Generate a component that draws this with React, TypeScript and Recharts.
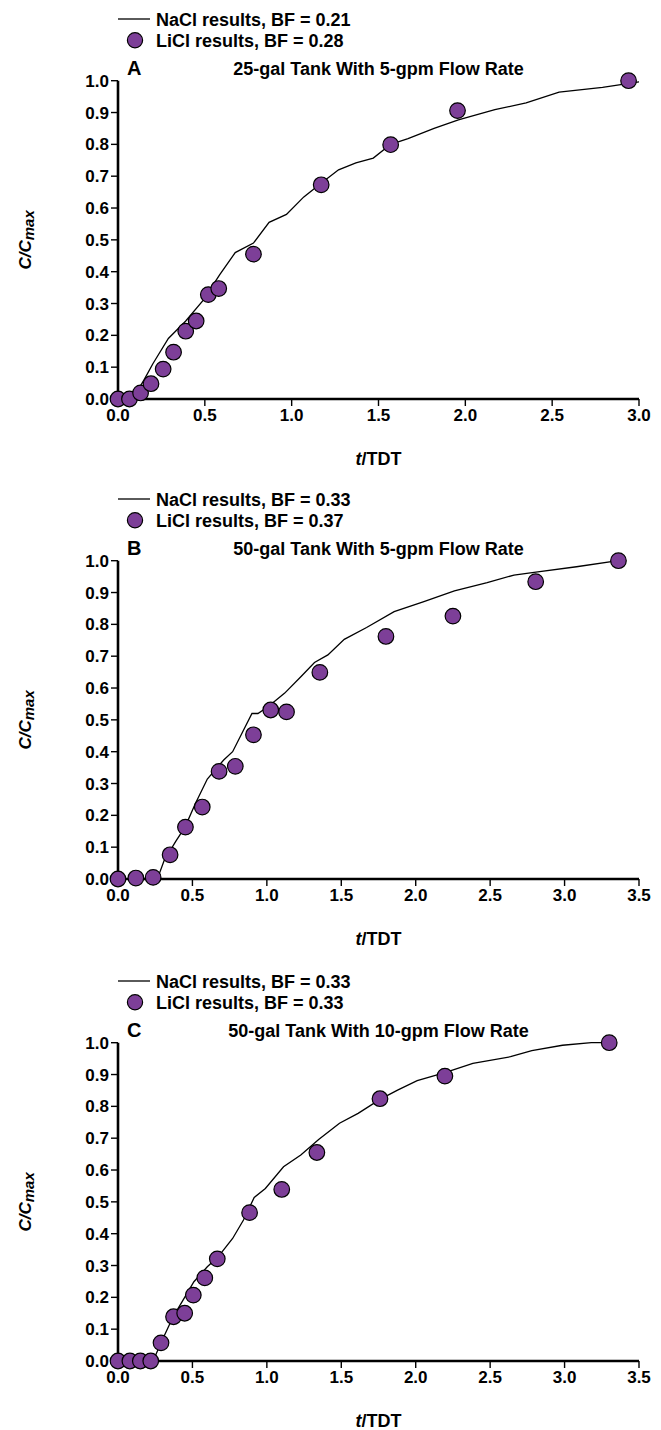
import React from 'react';
import { ComposedChart, Line, Scatter, XAxis, YAxis } from 'recharts';

const FONT = '"Liberation Sans", Arial, Helvetica, sans-serif';
const PURPLE = '#7D3F98';

// ---------- Panel A : 25-gal tank, 5 gpm ----------
const naclA_t = [0, 0.05, 0.1, 0.15, 0.2, 0.29, 0.39, 0.49, 0.585, 0.675, 0.78, 0.87, 0.97, 1.07, 1.175, 1.27, 1.37, 1.47, 1.57, 1.67, 1.82, 1.96, 2.17, 2.35, 2.54, 2.79, 3.0];
const naclA_c = [0, 0.003, 0.015, 0.06, 0.11, 0.19, 0.245, 0.31, 0.39, 0.46, 0.49, 0.555, 0.58, 0.635, 0.68, 0.72, 0.742, 0.757, 0.8, 0.818, 0.85, 0.877, 0.909, 0.93, 0.964, 0.979, 0.996];
const liclA_t = [0, 0.066, 0.13, 0.19, 0.26, 0.32, 0.39, 0.45, 0.52, 0.58, 0.78, 1.17, 1.57, 1.955, 2.94];
const liclA_c = [0, 0, 0.019, 0.048, 0.094, 0.147, 0.213, 0.245, 0.328, 0.347, 0.455, 0.673, 0.799, 0.906, 1.0];

// ---------- Panel B : 50-gal tank, 5 gpm ----------
const naclB_t = [0, 0.1, 0.24, 0.28, 0.31, 0.39, 0.45, 0.52, 0.6, 0.71, 0.77, 0.9, 0.94, 1.01, 1.12, 1.23, 1.32, 1.41, 1.52, 1.67, 1.855, 2.05, 2.26, 2.48, 2.66, 2.82, 3.08, 3.36];
const naclB_c = [0, 0, 0, 0.02, 0.058, 0.12, 0.163, 0.237, 0.314, 0.374, 0.4, 0.52, 0.52, 0.542, 0.584, 0.636, 0.68, 0.704, 0.753, 0.79, 0.84, 0.871, 0.905, 0.931, 0.955, 0.965, 0.981, 1.0];
const liclB_t = [0, 0.12, 0.236, 0.35, 0.453, 0.566, 0.679, 0.788, 0.91, 1.026, 1.132, 1.356, 1.8, 2.25, 2.806, 3.362];
const liclB_c = [0, 0.003, 0.005, 0.076, 0.163, 0.226, 0.338, 0.354, 0.453, 0.531, 0.525, 0.649, 0.762, 0.826, 0.934, 1.0];

// ---------- Panel C : 50-gal tank, 10 gpm ----------
const naclC_t = [0, 0.1, 0.2, 0.24, 0.289, 0.37, 0.43, 0.51, 0.6, 0.674, 0.77, 0.843, 0.915, 0.99, 1.112, 1.228, 1.348, 1.488, 1.613, 1.76, 1.878, 2.01, 2.196, 2.384, 2.637, 2.78, 2.986, 3.18, 3.35];
const naclC_c = [0, 0, 0, 0.005, 0.057, 0.139, 0.186, 0.249, 0.296, 0.328, 0.385, 0.443, 0.514, 0.542, 0.61, 0.647, 0.696, 0.747, 0.778, 0.822, 0.851, 0.881, 0.906, 0.935, 0.956, 0.975, 0.992, 1.0, 1.0];
const liclC_t = [0, 0.08, 0.15, 0.22, 0.289, 0.373, 0.448, 0.506, 0.583, 0.667, 0.884, 1.1, 1.336, 1.76, 2.196, 3.3];
const liclC_c = [0, 0, 0, 0, 0.057, 0.139, 0.15, 0.207, 0.261, 0.321, 0.466, 0.539, 0.655, 0.824, 0.895, 1.0];

// ---------- ticks & labels ----------
const yTicks = [0, 0.1, 0.2, 0.3, 0.4, 0.5, 0.6, 0.7, 0.8, 0.9, 1.0];
const xTicksA = [0, 0.5, 1.0, 1.5, 2.0, 2.5, 3.0];
const xTicksBC = [0, 0.5, 1.0, 1.5, 2.0, 2.5, 3.0, 3.5];
const letters = ['A', 'B', 'C'];
const titles = ['25-gal Tank With 5-gpm Flow Rate', '50-gal Tank With 5-gpm Flow Rate', '50-gal Tank With 10-gpm Flow Rate'];
const naclLabels = ['NaCl results, BF = 0.21', 'NaCl results, BF = 0.33', 'NaCl results, BF = 0.33'];
const liclLabels = ['LiCl results, BF = 0.28', 'LiCl results, BF = 0.37', 'LiCl results, BF = 0.33'];

const zip = (t: number[], c: number[]) => t.map((x, i) => ({ x, y: c[i] }));

const W = 661;
const H = 470;
const PLOT_TOP = 80.7;
const LEFT = 118;
const RIGHT = 22;
const XAXIS_H = 71;

const tickStyle = { fill: '#000', fontSize: 17, fontWeight: 700, fontFamily: FONT };

const XLabel = (props: any) => {
  const vb = props.viewBox || {};
  const cx = (vb.x ?? LEFT) + (vb.width ?? W - LEFT - RIGHT) / 2;
  const y = (vb.y ?? H - XAXIS_H) + 66;
  return (
    <text x={cx} y={y} textAnchor="middle" fontFamily={FONT} fontSize={18} fontWeight={700} fill="#000">
      <tspan fontStyle="italic">t</tspan>
      <tspan>/TDT</tspan>
    </text>
  );
};

const YLabel = (props: any) => {
  const vb = props.viewBox || {};
  const cy = (vb.y ?? PLOT_TOP) + (vb.height ?? H - PLOT_TOP - XAXIS_H) / 2;
  const bx = 31;
  return (
    <text transform={`translate(${bx}, ${cy}) rotate(-90)`} x={0} y={0} textAnchor="middle" fontFamily={FONT} fontWeight={700} fontStyle="italic" fill="#000">
      <tspan fontSize={17}>C/C</tspan>
      <tspan fontSize={15} dy={3}>max</tspan>
    </text>
  );
};

const Dot = (p: any) => (
  <circle cx={p.cx} cy={p.cy} r={7.8} fill={PURPLE} stroke="#000" strokeWidth={1.2} />
);

type PanelProps = {
  idx: number;
  top: number;
  nacl: { x: number; y: number }[];
  licl: { x: number; y: number }[];
  xMax: number;
  xTicks: number[];
};

function Panel({ idx, top, nacl, licl, xMax, xTicks }: PanelProps) {
  const T = PLOT_TOP;
  const plotCx = LEFT + (W - LEFT - RIGHT) / 2;
  return (
    <div style={{ position: 'absolute', left: 0, top, width: W, height: H }}>
      <ComposedChart width={W} height={H} margin={{ top: PLOT_TOP, right: RIGHT, bottom: 0, left: 0 }}>
        <XAxis
          type="number"
          dataKey="x"
          domain={[0, xMax]}
          ticks={xTicks}
          interval={0}
          tickFormatter={(v: number) => v.toFixed(1)}
          axisLine={{ stroke: '#000', strokeWidth: 2.6 }}
          tickLine={{ stroke: '#000', strokeWidth: 1.4 }}
          tickSize={7}
          tickMargin={3}
          tick={tickStyle}
          height={XAXIS_H}
          label={(p: any) => <XLabel {...p} />}
        />
        <YAxis
          type="number"
          dataKey="y"
          domain={[0, 1]}
          ticks={yTicks}
          interval={0}
          tickFormatter={(v: number) => v.toFixed(1)}
          axisLine={{ stroke: '#000', strokeWidth: 2.6 }}
          tickLine={{ stroke: '#000', strokeWidth: 1.4 }}
          tickSize={7}
          tickMargin={2}
          tick={tickStyle}
          width={LEFT}
          label={(p: any) => <YLabel {...p} />}
        />
        <Line data={nacl} dataKey="y" type="linear" stroke="#000" strokeWidth={1.3} dot={false} activeDot={false} isAnimationActive={false} />
        <Scatter data={licl} dataKey="y" shape={Dot} isAnimationActive={false} />
      </ComposedChart>
      <svg width={W} height={H} style={{ position: 'absolute', left: 0, top: 0, pointerEvents: 'none' }}>
        <g fontFamily={FONT} fontWeight={700} fill="#000">
          <line x1={118} x2={150} y1={T - 61.7} y2={T - 61.7} stroke="#000" strokeWidth={1.3} />
          <text x={156} y={T - 54.5} fontSize={18}>{naclLabels[idx]}</text>
          <circle cx={135} cy={T - 40.4} r={7.6} fill={PURPLE} stroke="#000" strokeWidth={1.2} />
          <text x={156} y={T - 34} fontSize={18}>{liclLabels[idx]}</text>
          <text x={127} y={T - 6} fontSize={20}>{letters[idx]}</text>
          <text x={plotCx} y={T - 6} fontSize={18} textAnchor="middle">{titles[idx]}</text>
        </g>
      </svg>
    </div>
  );
}

export default function App() {
  return (
    <div style={{ position: 'absolute', left: 0, top: 0, width: W, height: 1430, overflow: 'hidden', background: '#fff' }}>
      <Panel idx={0} top={0} nacl={zip(naclA_t, naclA_c)} licl={zip(liclA_t, liclA_c)} xMax={3} xTicks={xTicksA} />
      <Panel idx={1} top={480} nacl={zip(naclB_t, naclB_c)} licl={zip(liclB_t, liclB_c)} xMax={3.5} xTicks={xTicksBC} />
      <Panel idx={2} top={962} nacl={zip(naclC_t, naclC_c)} licl={zip(liclC_t, liclC_c)} xMax={3.5} xTicks={xTicksBC} />
    </div>
  );
}
